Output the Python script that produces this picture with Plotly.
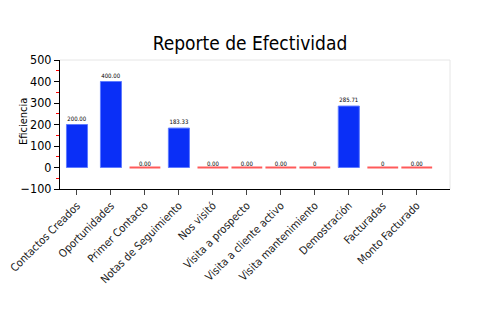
import plotly.graph_objects as go

categories = ["Contactos Creados", "Oportunidades", "Primer Contacto", "Notas de Seguimiento",
              "Nos visitó", "Visita a prospecto", "Visita a cliente activo", "Visita mantenimiento",
              "Demostración", "Facturadas", "Monto Facturado"]
values = [200.00, 400.00, 0.00, 183.33, 0.00, 0.00, 0.00, 0, 285.71, 0, 0.00]
labels = ["200.00", "400.00", "0.00", "183.33", "0.00", "0.00", "0.00", "0", "285.71", "0", "0.00"]
title = "Reporte de Efectividad"
y_title = "Eficiencia"

FONT = "DejaVu Sans Condensed, Roboto, sans-serif"

zero_cats = [c for c, v in zip(categories, values) if v == 0]
zero_vals = [v for v in values if v == 0]
zero_labels = [l for l, v in zip(labels, values) if v == 0]
nz_labels = [l if v != 0 else "" for l, v in zip(labels, values)]

fig = go.Figure()
fig.add_trace(go.Bar(
    x=categories, y=values,
    marker=dict(color="#0a2ff7", line=dict(color="#5f7bff", width=1)),
    text=nz_labels, textposition="outside", cliponaxis=False,
    textfont=dict(size=6, color="black", family=FONT),
    hoverinfo="x+y",
))
fig.add_trace(go.Scatter(
    x=zero_cats, y=zero_vals, mode="markers",
    marker=dict(symbol="line-ew", size=22, line=dict(color="#ff5a5a", width=2)),
    cliponaxis=False, hoverinfo="x+y",
))
fig.add_trace(go.Scatter(
    x=zero_cats, y=zero_vals, mode="text",
    text=zero_labels, textposition="top center",
    textfont=dict(size=6, color="black", family=FONT),
    cliponaxis=False, hoverinfo="skip",
))

fig.update_layout(
    width=500, height=330,
    margin=dict(l=60, r=50, t=60, b=141, autoexpand=False),
    paper_bgcolor="white", plot_bgcolor="white",
    showlegend=False, bargap=0.38,
    title=dict(text=title, x=0.5, xanchor="center", y=0.868, yanchor="middle",
               font=dict(size=19, color="black", family=FONT)),
    font=dict(family=FONT, color="black"),
)
fig.update_xaxes(
    type="category", tickangle=-45, tickfont=dict(size=11, color="#222"),
    showline=True, linecolor="black", linewidth=1, mirror=False, automargin=False,
    ticks="outside", ticklen=5, tickcolor="#444", showgrid=False,
)
fig.update_yaxes(
    range=[-100, 500], tickmode="linear", tick0=0, dtick=100,
    tickfont=dict(size=12.5, color="black"), automargin=False,
    showline=True, linecolor="black", linewidth=1,
    ticks="outside", ticklen=5, tickcolor="black", showgrid=False, zeroline=False,
    minor=dict(dtick=50, tick0=0, ticks="outside", ticklen=3, tickcolor="red", tickwidth=1, showgrid=False),
)
fig.add_annotation(text=y_title, xref="paper", yref="paper", x=-0.092, y=0.52,
                   xanchor="center", yanchor="middle", textangle=-90, showarrow=False,
                   font=dict(size=11, color="black", family=FONT))
# light frame on top and right
fig.add_shape(type="line", xref="paper", yref="paper", x0=0, x1=1, y0=1, y1=1,
              line=dict(color="#e6e6e6", width=1))
fig.add_shape(type="line", xref="paper", yref="paper", x0=1, x1=1, y0=0, y1=1,
              line=dict(color="#e6e6e6", width=1))

fig.write_html("out.html")
